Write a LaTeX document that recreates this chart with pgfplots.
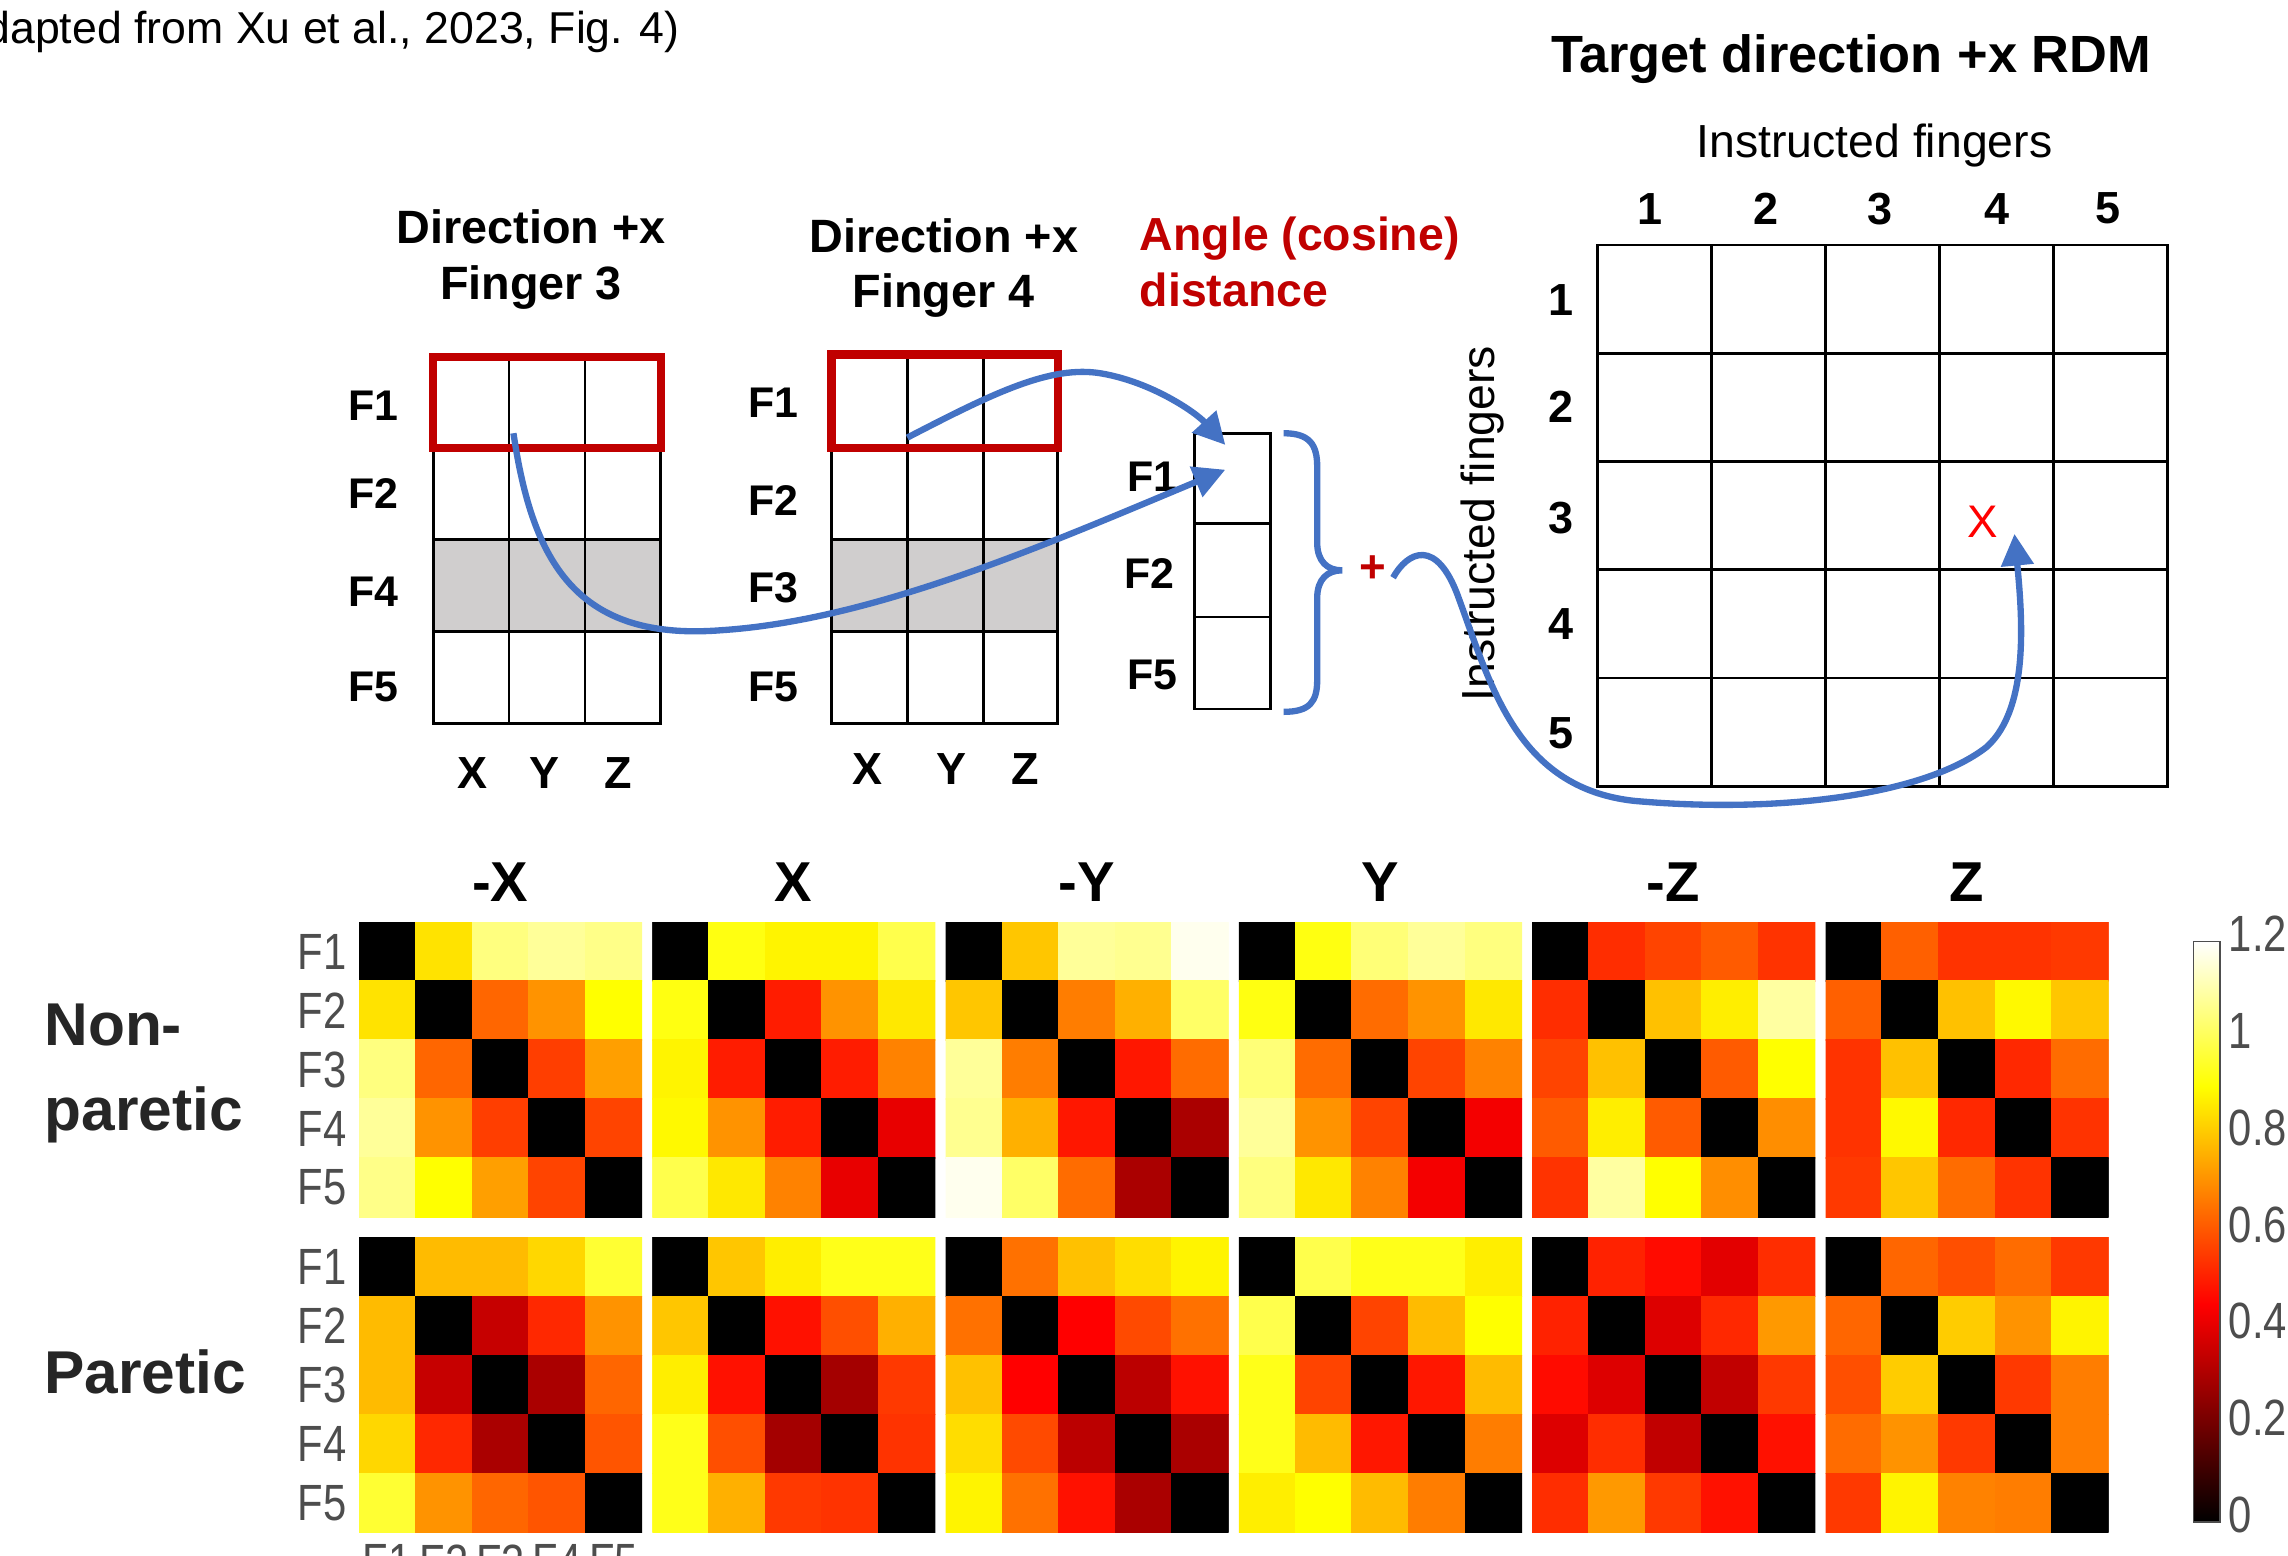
\documentclass[border=0pt]{standalone}
\usepackage{pgfplots}
\pgfplotsset{compat=1.18}
\usepackage{fontspec}
\setmainfont{Liberation Sans}
\newfontfamily\narrowfont{Liberation Sans}[FakeStretch=0.82]
\usetikzlibrary{arrows.meta}
\newcommand{\fs}[1]{\fontsize{#1}{#1}\selectfont}
\definecolor{dred}{RGB}{192,0,0}
\definecolor{ablue}{RGB}{68,114,196}
\definecolor{lgray}{RGB}{208,206,206}
\definecolor{tgray}{RGB}{77,77,77}
\pgfplotsset{
  colormap={hotm}{rgb255(0)=(0,0,0) rgb255(3)=(255,0,0) rgb255(6)=(255,255,0) rgb255(8)=(255,255,255)},
  hm/.style={scale only axis, width=2.831cm, height=2.948cm, anchor=north west,
    xmin=0.5, xmax=5.5, ymin=0.5, ymax=5.5, y dir=reverse,
    axis line style={draw=none}, tick style={draw=none},
    xtick=\empty, ytick={1,2,3,4,5}, yticklabels={},
    colormap name=hotm, point meta min=0, point meta max=1.2,
    tick label style={font=\narrowfont\fs{14.5pt}, text=tgray}},
  hmy/.style={yticklabels={F1,F2,F3,F4,F5}},
  hmplot/.style={matrix plot*, mesh/cols=5, point meta=explicit},
}
\begin{document}
\begin{tikzpicture}
\useasboundingbox (0,0) rectangle (22.88cm,-15.555cm);
\clip (0,0) rectangle (22.88cm,-15.555cm);
\begin{scope}[x=0.014592cm, y=-0.014592cm, every node/.style={inner sep=0pt}]
% caption line
\node[anchor=base west, font=\fs{12.7pt}] at (-41,30) {(Adapted from Xu et al., 2023, Fig. 4)};
% grid 1
\fill[lgray] (297,370) rectangle (453,433);
\draw[line width=0.8pt] (297,245) rectangle (453,496);
\foreach \yy in {308,370,433} \draw[line width=0.8pt] (297,\yy) -- (453,\yy);
\foreach \xx in {349,401} \draw[line width=0.8pt] (\xx,245) -- (\xx,496);
\draw[dred, line width=2.3pt] (297,245) rectangle (453,307);
\node[anchor=base, font=\fs{13.3pt}\bfseries] at (364,167) {Direction +x};
\node[anchor=base, font=\fs{13.3pt}\bfseries] at (364,205) {Finger 3};
\foreach \lab/\yy in {F1/278,F2/338,F4/406,F5/471} \node[font=\fs{12.2pt}\bfseries] at (256,\yy) {\lab};
\foreach \lab/\xx in {X/324,Y/373,Z/424} \node[font=\fs{12.8pt}\bfseries] at (\xx,530) {\lab};
% grid 2
\fill[lgray] (570,370) rectangle (725,433);
\draw[line width=0.8pt] (570,243) rectangle (725,496);
\foreach \yy in {308,370,433} \draw[line width=0.8pt] (570,\yy) -- (725,\yy);
\foreach \xx in {622,674} \draw[line width=0.8pt] (\xx,243) -- (\xx,496);
\draw[dred, line width=2.3pt] (570,243) rectangle (725,307);
\node[anchor=base, font=\fs{13.3pt}\bfseries] at (647,173) {Direction +x};
\node[anchor=base, font=\fs{13.3pt}\bfseries] at (647,211) {Finger 4};
\foreach \lab/\yy in {F1/276,F2/343,F3/403,F5/471} \node[font=\fs{12.2pt}\bfseries] at (530,\yy) {\lab};
\foreach \lab/\xx in {X/595,Y/652,Z/703} \node[font=\fs{12.8pt}\bfseries] at (\xx,527) {\lab};
% angle text
\node[anchor=base west, font=\fs{13.2pt}\bfseries, text=dred] at (781,172) {Angle (cosine)};
\node[anchor=base west, font=\fs{13.2pt}\bfseries, text=dred] at (781,210) {distance};
% vector
\draw[line width=0.8pt] (819,297) rectangle (871,486);
\foreach \yy in {359,423} \draw[line width=0.8pt] (819,\yy) -- (871,\yy);
\node[font=\fs{12.2pt}\bfseries] at (790,327) {F1};
\node[font=\fs{12.2pt}\bfseries] at (788,393) {F2};
\node[font=\fs{12.2pt}\bfseries] at (790,463) {F5};
% brace
\draw[ablue, line width=1.8pt] (880,297) .. controls (898,297) and (903,305) .. (903,320) -- (903,372)
  .. controls (903,385) and (910,391) .. (920,391)
  .. controls (910,391) and (903,397) .. (903,410) -- (903,466)
  .. controls (903,481) and (898,488) .. (880,488);
\node[font=\fs{13pt}\bfseries, text=dred] at (941,390) {+};
% RDM grid
\node[anchor=base, font=\fs{14.9pt}\bfseries] at (1269,50) {Target direction +x RDM};
\node[anchor=base, font=\fs{13.2pt}] at (1285,108) {Instructed fingers};
\node[rotate=90, font=\fs{13.2pt}] at (1016,359) {Instructed fingers};
\draw[line width=0.8pt] (1095,168) rectangle (1486,539);
\foreach \xx in {1173.2,1251.4,1329.6,1407.8} \draw[line width=0.8pt] (\xx,168) -- (\xx,539);
\foreach \yy in {242.2,316.4,390.6,464.8} \draw[line width=0.8pt] (1095,\yy) -- (1486,\yy);
\foreach \lab/\xx in {1/1131,2/1211,3/1289,4/1369,5/1445} \node[font=\fs{12.8pt}\bfseries] at (\xx,143) {\lab};
\foreach \lab/\yy in {1/206,2/279,3/355,4/428,5/503} \node[font=\fs{12.8pt}\bfseries] at (1070,\yy) {\lab};
\node[font=\fs{13pt}, text=red] at (1359,358) {X};
% arrows
\draw[ablue, line width=1.8pt, -{Triangle[length=9pt,width=9pt]}] (352,297) .. controls (365,385) and (395,440) .. (495,432) .. controls (600,425) and (720,372) .. (840,322);
\draw[ablue, line width=1.8pt, -{Triangle[length=9pt,width=9pt]}] (622,300) .. controls (680,270) and (720,250) .. (755,256) .. controls (790,262) and (820,283) .. (840,305);
\draw[ablue, line width=1.8pt, -{Triangle[length=9pt,width=9pt]}] (955,396) .. controls (965,378) and (985,368) .. (1000,410) .. controls (1022,470) and (1040,540) .. (1120,549) .. controls (1220,558) and (1320,545) .. (1362,512) .. controls (1392,485) and (1386,420) .. (1381,366);
% heatmap titles and row labels
\foreach \lab/\xx in {-X/343,X/544,-Y/745,Y/946,-Z/1147,Z/1348} \node[font=\fs{16pt}\bfseries] at (\xx,605) {\lab};
\node[anchor=base west, font=\fs{17.2pt}\bfseries, text=black!85] at (30,717) {Non-};
\node[anchor=base west, font=\fs{17.2pt}\bfseries, text=black!85] at (30,775) {paretic};
\node[anchor=base west, font=\fs{17.2pt}\bfseries, text=black!85] at (30,955) {Paretic};
\end{scope}

% ---------------- Non-paretic row ----------------
\begin{axis}[hm, hmy, at={(3.590cm,-9.222cm)}]
\addplot[hmplot] coordinates {
(1,1)[0] (2,1)[0.85] (3,1)[1.05] (4,1)[1.08] (5,1)[1.06]
(1,2)[0.85] (2,2)[0] (3,2)[0.63] (4,2)[0.71] (5,2)[0.90]
(1,3)[1.05] (2,3)[0.63] (3,3)[0] (4,3)[0.56] (5,3)[0.73]
(1,4)[1.08] (2,4)[0.71] (3,4)[0.56] (4,4)[0] (5,4)[0.57]
(1,5)[1.06] (2,5)[0.90] (3,5)[0.73] (4,5)[0.57] (5,5)[0]};
\end{axis}
\begin{axis}[hm, at={(6.523cm,-9.222cm)}]
\addplot[hmplot] coordinates {
(1,1)[0] (2,1)[0.92] (3,1)[0.88] (4,1)[0.88] (5,1)[0.99]
(1,2)[0.92] (2,2)[0] (3,2)[0.50] (4,2)[0.71] (5,2)[0.86]
(1,3)[0.88] (2,3)[0.50] (3,3)[0] (4,3)[0.50] (5,3)[0.68]
(1,4)[0.89] (2,4)[0.71] (3,4)[0.50] (4,4)[0] (5,4)[0.41]
(1,5)[0.99] (2,5)[0.86] (3,5)[0.68] (4,5)[0.41] (5,5)[0]};
\end{axis}
\begin{axis}[hm, at={(9.456cm,-9.222cm)}]
\addplot[hmplot] coordinates {
(1,1)[0] (2,1)[0.80] (3,1)[1.08] (4,1)[1.07] (5,1)[1.18]
(1,2)[0.80] (2,2)[0] (3,2)[0.67] (4,2)[0.76] (5,2)[1.02]
(1,3)[1.08] (2,3)[0.67] (3,3)[0] (4,3)[0.49] (5,3)[0.64]
(1,4)[1.07] (2,4)[0.76] (3,4)[0.49] (4,4)[0] (5,4)[0.30]
(1,5)[1.18] (2,5)[1.02] (3,5)[0.64] (4,5)[0.30] (5,5)[0]};
\end{axis}
\begin{axis}[hm, at={(12.389cm,-9.222cm)}]
\addplot[hmplot] coordinates {
(1,1)[0] (2,1)[0.92] (3,1)[1.04] (4,1)[1.08] (5,1)[1.05]
(1,2)[0.92] (2,2)[0] (3,2)[0.64] (4,2)[0.71] (5,2)[0.86]
(1,3)[1.04] (2,3)[0.64] (3,3)[0] (4,3)[0.57] (5,3)[0.68]
(1,4)[1.08] (2,4)[0.71] (3,4)[0.57] (4,4)[0] (5,4)[0.43]
(1,5)[1.05] (2,5)[0.86] (3,5)[0.68] (4,5)[0.43] (5,5)[0]};
\end{axis}
\begin{axis}[hm, at={(15.322cm,-9.222cm)}]
\addplot[hmplot] coordinates {
(1,1)[0] (2,1)[0.53] (3,1)[0.57] (4,1)[0.61] (5,1)[0.54]
(1,2)[0.53] (2,2)[0] (3,2)[0.79] (4,2)[0.87] (5,2)[1.09]
(1,3)[0.57] (2,3)[0.79] (3,3)[0] (4,3)[0.61] (5,3)[0.90]
(1,4)[0.61] (2,4)[0.87] (3,4)[0.61] (4,4)[0] (5,4)[0.70]
(1,5)[0.54] (2,5)[1.09] (3,5)[0.90] (4,5)[0.70] (5,5)[0]};
\end{axis}
\begin{axis}[hm, at={(18.255cm,-9.222cm)}, colorbar,
  colorbar style={at={(parent axis.north east)}, anchor=north west,
    xshift=0.55cm, yshift=-0.19cm, scale only axis, width=0.263cm, height=5.808cm,
    ytick={0,0.2,0.4,0.6,0.8,1,1.2},
    yticklabel style={font=\narrowfont\fs{14.5pt}, text=tgray, /pgf/number format/assume math mode=true, xshift=-1pt, yshift=2pt},
    axis line style={tgray, line width=0.4pt}, ytick style={black}, major tick length=2pt}]
\addplot[hmplot] coordinates {
(1,1)[0] (2,1)[0.62] (3,1)[0.54] (4,1)[0.54] (5,1)[0.55]
(1,2)[0.62] (2,2)[0] (3,2)[0.79] (4,2)[0.89] (5,2)[0.80]
(1,3)[0.54] (2,3)[0.79] (3,3)[0] (4,3)[0.52] (5,3)[0.64]
(1,4)[0.54] (2,4)[0.89] (3,4)[0.52] (4,4)[0] (5,4)[0.54]
(1,5)[0.55] (2,5)[0.80] (3,5)[0.64] (4,5)[0.54] (5,5)[0]};
\end{axis}

% ---------------- Paretic row ----------------
\begin{axis}[hm, hmy, at={(3.590cm,-12.374cm)}, xtick={1,2,3,4,5}, xticklabels={F1,F2,F3,F4,F5}]
\addplot[hmplot] coordinates {
(1,1)[0] (2,1)[0.78] (3,1)[0.78] (4,1)[0.83] (5,1)[0.96]
(1,2)[0.78] (2,2)[0] (3,2)[0.35] (4,2)[0.52] (5,2)[0.71]
(1,3)[0.78] (2,3)[0.35] (3,3)[0] (4,3)[0.30] (5,3)[0.63]
(1,4)[0.83] (2,4)[0.52] (3,4)[0.30] (4,4)[0] (5,4)[0.60]
(1,5)[0.96] (2,5)[0.71] (3,5)[0.63] (4,5)[0.60] (5,5)[0]};
\end{axis}
\begin{axis}[hm, at={(6.523cm,-12.374cm)}]
\addplot[hmplot] coordinates {
(1,1)[0] (2,1)[0.80] (3,1)[0.87] (4,1)[0.93] (5,1)[0.93]
(1,2)[0.80] (2,2)[0] (3,2)[0.48] (4,2)[0.59] (5,2)[0.76]
(1,3)[0.87] (2,3)[0.48] (3,3)[0] (4,3)[0.29] (5,3)[0.55]
(1,4)[0.93] (2,4)[0.59] (3,4)[0.29] (4,4)[0] (5,4)[0.54]
(1,5)[0.93] (2,5)[0.76] (3,5)[0.55] (4,5)[0.54] (5,5)[0]};
\end{axis}
\begin{axis}[hm, at={(9.456cm,-12.374cm)}]
\addplot[hmplot] coordinates {
(1,1)[0] (2,1)[0.65] (3,1)[0.79] (4,1)[0.84] (5,1)[0.88]
(1,2)[0.65] (2,2)[0] (3,2)[0.45] (4,2)[0.58] (5,2)[0.65]
(1,3)[0.79] (2,3)[0.45] (3,3)[0] (4,3)[0.33] (5,3)[0.48]
(1,4)[0.84] (2,4)[0.58] (3,4)[0.33] (4,4)[0] (5,4)[0.30]
(1,5)[0.88] (2,5)[0.65] (3,5)[0.48] (4,5)[0.30] (5,5)[0]};
\end{axis}
\begin{axis}[hm, at={(12.389cm,-12.374cm)}]
\addplot[hmplot] coordinates {
(1,1)[0] (2,1)[0.99] (3,1)[0.93] (4,1)[0.93] (5,1)[0.87]
(1,2)[0.99] (2,2)[0] (3,2)[0.57] (4,2)[0.78] (5,2)[0.90]
(1,3)[0.93] (2,3)[0.57] (3,3)[0] (4,3)[0.49] (5,3)[0.78]
(1,4)[0.93] (2,4)[0.78] (3,4)[0.49] (4,4)[0] (5,4)[0.67]
(1,5)[0.87] (2,5)[0.90] (3,5)[0.78] (4,5)[0.67] (5,5)[0]};
\end{axis}
\begin{axis}[hm, at={(15.322cm,-12.374cm)}]
\addplot[hmplot] coordinates {
(1,1)[0] (2,1)[0.51] (3,1)[0.47] (4,1)[0.40] (5,1)[0.53]
(1,2)[0.51] (2,2)[0] (3,2)[0.39] (4,2)[0.52] (5,2)[0.72]
(1,3)[0.47] (2,3)[0.39] (3,3)[0] (4,3)[0.34] (5,3)[0.55]
(1,4)[0.39] (2,4)[0.53] (3,4)[0.34] (4,4)[0] (5,4)[0.48]
(1,5)[0.53] (2,5)[0.72] (3,5)[0.55] (4,5)[0.48] (5,5)[0]};
\end{axis}
\begin{axis}[hm, at={(18.255cm,-12.374cm)}]
\addplot[hmplot] coordinates {
(1,1)[0] (2,1)[0.63] (3,1)[0.59] (4,1)[0.64] (5,1)[0.55]
(1,2)[0.63] (2,2)[0] (3,2)[0.81] (4,2)[0.71] (5,2)[0.88]
(1,3)[0.59] (2,3)[0.81] (3,3)[0] (4,3)[0.55] (5,3)[0.67]
(1,4)[0.64] (2,4)[0.71] (3,4)[0.55] (4,4)[0] (5,4)[0.67]
(1,5)[0.55] (2,5)[0.88] (3,5)[0.68] (4,5)[0.67] (5,5)[0]};
\end{axis}
\end{tikzpicture}
\end{document}
